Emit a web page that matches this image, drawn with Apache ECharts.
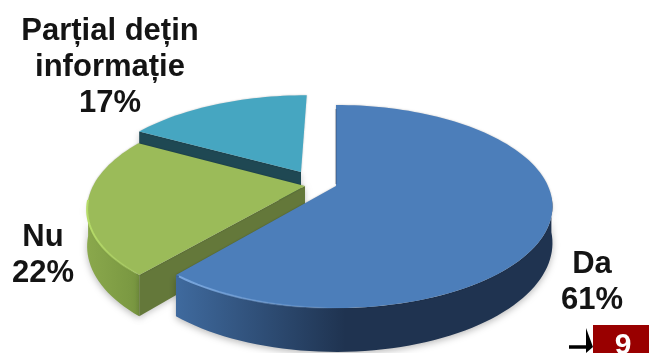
<!DOCTYPE html>
<html>
<head>
<meta charset="utf-8">
<style>html,body{margin:0;padding:0;background:#fff}#chart{width:649px;height:353px}</style>
<script src="https://cdn.jsdelivr.net/npm/echarts@6/dist/echarts.min.js"></script>
</head>
<body>
<div id="chart"></div>
<script>
// Survey answers, clockwise from twelve o'clock
const categories = ['Da', 'Nu', 'Parțial dețin\ninformație'];
const percentages = [61, 22, 17];

// Perspective of the tilted disc
const view = { cx: 336, cy: 186, a: 212, b: 97.4, k: 0.202, depth: 35 };
// Where each exploded slice's tip lands on screen
const tips = [[336, 186], [305, 186], [301, 172]];
const labelAnchors = [[592, 282], [43, 255], [110, 67]];
const FONT = '"Liberation Sans", Arial, sans-serif';
const palette = [
  { top: '#4c7eba', rim: '#7aa8e0', face: '#2c4a70', sideFrom: '#3f6a9e', sideTo: '#1f3350' },
  { top: '#9bbb59', rim: '#b6dc68', face: '#64783a', sideFrom: '#64803a', sideTo: '#8aa84c' },
  { top: '#46a6c1', rim: '#46a6c1', face: '#1f4853', sideFrom: '#1f4853', sideTo: '#1f4853' }
];
// Paint order: teal at the back, green over it, blue in front
const layer = [30, 20, 10];

function project(x, y, z) {
  const w = 1 + view.k * y;
  return [view.cx + view.a * x / w, view.cy - view.b * y / w + view.depth * z / w];
}
function tipToWorld(t) {
  const p = (t[0] - view.cx) / view.a;
  const q = (view.cy - t[1]) / view.b;
  const y = q / (1 - view.k * q);
  return [p * (1 + view.k * y), y];
}
function arc(o, from, to, z) {
  const pts = [];
  const steps = Math.max(2, Math.ceil(Math.abs(to - from) / 2));
  for (let i = 0; i <= steps; i++) {
    const t = (from + (to - from) * i / steps) * Math.PI / 180;
    pts.push(project(o[0] + Math.sin(t), o[1] + Math.cos(t), z));
  }
  return pts;
}
const total = percentages.reduce((s, v) => s + v, 0);
function startAngle(index) {
  let sum = 0;
  for (let i = 0; i < index; i++) sum += percentages[i];
  return sum / total * 360;
}
function hGrad(x1, x2, c1, c2) {
  return { type: 'linear', x: x1, y: 0, x2: x2, y2: 0, global: true,
    colorStops: [{ offset: 0, color: c1 }, { offset: 1, color: c2 }] };
}
function poly(points, style, z2) {
  return { type: 'polygon', shape: { points }, style, z2, silent: true };
}

function renderSlice(params, api) {
  const i = api.value(1);
  const from = startAngle(i);
  const to = from + api.value(0) / total * 360;
  const o = tipToWorld(tips[i]);
  const c = palette[i];
  const z = layer[i];
  const tip = project(o[0], o[1], 0);
  const tipLow = project(o[0], o[1], 1);
  const children = [];

  // Rim wall along the near part of the circumference
  const wallFrom = Math.max(from, 96);
  const wallTo = Math.min(to, 262);
  if (wallFrom < wallTo) {
    const upper = arc(o, wallFrom, wallTo, 0);
    const lower = arc(o, wallFrom, wallTo, 1);
    const xs = upper.concat(lower).map(p => p[0]);
    const x1 = Math.min(...xs), x2 = Math.max(...xs);
    children.push(poly(upper.concat(lower.reverse()), {
      fill: i === 0 ? {
        type: 'linear', x: x1, y: 0, x2: x2, y2: 0, global: true,
        colorStops: [
          { offset: 0, color: c.sideFrom },
          { offset: 0.45, color: c.sideTo },
          { offset: 1, color: '#1f3350' }
        ]
      } : hGrad(x1, x2, c.sideTo, '#789640'),
      shadowBlur: 7, shadowColor: 'rgba(0,0,0,0.28)', shadowOffsetY: 2
    }, z));
  }

  // Radial wall exposed by the slice's leading edge
  const edge = arc(o, from, from, 0)[0];
  const edgeLow = arc(o, from, from, 1)[0];
  if (i !== 0) {
    children.push(poly([edge, edgeLow, tipLow, tip], {
      fill: c.face,
      shadowBlur: 6, shadowColor: 'rgba(0,0,0,0.22)', shadowOffsetY: 2
    }, z + 1));
  }

  // Top surface
  const rimStart = arc(o, from, to, 0);
  children.push(poly([tip].concat(rimStart), {
    fill: c.top,
    shadowBlur: 2,
    shadowColor: 'rgba(0,0,0,0.25)'
  }, z + 2));

  // Soft highlight on the lit part of the near edge
  if (i < 2) {
    const lit = i === 0 ? arc(o, 176, to - 1, 0) : arc(o, from + 1, 262, 0);
    const xs = lit.map(p => p[0]);
    const x1 = Math.min(...xs), x2 = Math.max(...xs);
    children.push({
      type: 'polyline', shape: { points: lit }, silent: true, z2: z + 3,
      style: {
        fill: 'none', lineWidth: 2,
        stroke: i === 0
          ? hGrad(x1, x2, c.rim, 'rgba(122,168,224,0)')
          : hGrad(x1, x2, c.rim, 'rgba(182,220,104,0.3)')
      }
    });
  }
  if (i === 0) {
    // Dark seam on the blue slice's straight back edge
    const back = arc(o, from, from, 0)[0];
    children.push({
      type: 'line', silent: true, z2: z + 3,
      shape: { x1: back[0], y1: back[1] + 4, x2: tip[0], y2: tip[1] - 2 },
      style: { stroke: 'rgba(40,60,90,0.55)', lineWidth: 1 }
    });
  }

  // Name and share
  children.push({
    type: 'text', silent: true, z2: 60,
    style: {
      text: categories[i] + '\n' + api.value(0) + '%',
      x: labelAnchors[i][0], y: labelAnchors[i][1],
      align: 'center', verticalAlign: 'middle',
      fontFamily: FONT, fontWeight: 'bold', fontSize: 31, lineHeight: 36,
      fill: '#141414'
    }
  });
  return { type: 'group', children };
}

const chart = echarts.init(document.getElementById('chart'), null, { renderer: 'canvas' });
chart.setOption({
  animation: false,
  backgroundColor: '#ffffff',
  series: [{
    type: 'custom',
    coordinateSystem: 'none',
    renderItem: renderSlice,
    data: percentages.map((v, i) => [v, i])
  }],
  graphic: [
    { type: 'rect', shape: { x: 593, y: 325, width: 56, height: 28 }, style: { fill: '#990000' }, z: 5 },
    { type: 'text', z: 6, style: { text: '9', x: 623, y: 346, align: 'center', verticalAlign: 'middle',
        fontFamily: FONT, fontWeight: 'bold', fontSize: 30, fill: '#ffffff' } },
    { type: 'line', z: 5, shape: { x1: 569, y1: 347, x2: 589, y2: 347 }, style: { stroke: '#000', lineWidth: 3.5 } },
    { type: 'polygon', z: 5, shape: { points: [[586, 328], [593, 347], [586, 353]] }, style: { fill: '#000' } }
  ]
});
</script>
</body>
</html>
